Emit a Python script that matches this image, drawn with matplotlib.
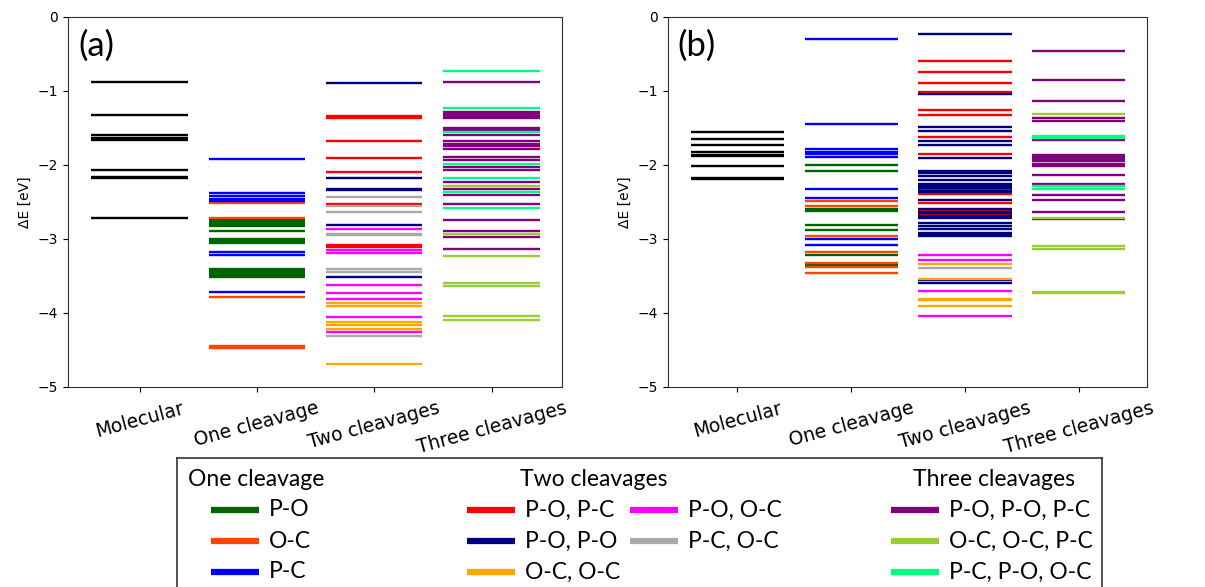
import numpy as np
import matplotlib.pyplot as plt
from matplotlib.lines import Line2D

# energy levels (eV), grouped by structure and bond set
columns = ["Molecular", "One cleavage", "Two cleavages", "Three cleavages"]

# ---- panel (a) ----
a_mol = [-0.88, -1.33, -1.60, -1.63, -1.66, -2.07, -2.16, -2.18, -2.71]

a_one = {
    "P-O": [-2.74, -2.77, -2.80, -2.82, -2.89, -3.00, -3.03, -3.06,
            -3.40, -3.43, -3.46, -3.49, -3.52],
    "O-C": [-2.52, -2.71, -3.78, -4.45, -4.47],
    "P-C": [-1.92, -2.38, -2.42, -2.46, -2.49, -3.17, -3.21, -3.71],
}
a_two = {
    "P-O, P-C": [-1.34, -1.36, -1.67, -1.91, -2.09, -2.53, -3.08, -3.11],
    "P-O, P-O": [-0.89, -2.18, -2.32, -2.34, -2.81, -3.52],
    "O-C, O-C": [-3.87, -3.91, -4.12, -4.16, -4.21, -4.69],
    "P-O, O-C": [-2.87, -3.15, -3.19, -3.62, -3.73, -3.81, -4.05, -4.25],
    "P-C, O-C": [-2.43, -2.56, -2.63, -2.93, -2.95, -3.41, -3.44, -4.31],
}
a_three = {
    "P-O, P-O, P-C": [-0.88, -1.28, -1.31, -1.34, -1.37, -1.50, -1.53, -1.59,
                      -1.67, -1.71, -1.74, -1.78, -1.89, -1.93, -2.03, -2.07,
                      -2.23, -2.32, -2.41, -2.53, -2.74, -2.89, -2.97, -3.13],
    "O-C, O-C, P-C": [-2.29, -2.93, -3.23, -3.59, -3.64, -4.04, -4.09],
    "P-C, P-O, O-C": [-0.73, -1.23, -1.56, -1.98, -2.17, -2.36, -2.58],
}

# ---- panel (b) ----
b_mol = [-1.56, -1.65, -1.73, -1.83, -1.86, -1.88, -2.02, -2.17, -2.19]

b_one = {
    "P-O": [-2.00, -2.08, -2.59, -2.62, -2.81, -2.88, -3.22, -3.35],
    "O-C": [-2.48, -2.55, -2.96, -3.18, -3.32, -3.38, -3.46],
    "P-C": [-0.30, -1.45, -1.79, -1.82, -1.85, -1.89, -2.32, -2.44, -3.00, -3.08],
}
b_two = {
    "P-O, P-C": [-0.60, -0.74, -0.89, -1.01, -1.25, -1.33, -1.62, -1.85,
                 -2.27, -2.33, -2.39, -2.52, -2.61, -2.67],
    "P-O, P-O": [-0.23, -1.04, -1.49, -1.54, -1.68, -1.73, -1.90, -2.08, -2.11,
                 -2.15, -2.20, -2.25, -2.29, -2.31, -2.35, -2.37, -2.47, -2.59,
                 -2.63, -2.65, -2.69, -2.71, -2.78, -2.82, -2.86, -2.92, -2.94,
                 -2.96, -3.56, -3.59],
    "O-C, O-C": [-3.34, -3.54, -3.81, -3.83, -3.90],
    "P-O, O-C": [-3.21, -3.29, -3.70, -4.04],
    "P-C, O-C": [-3.39],
}
b_three = {
    "P-O, P-O, P-C": [-0.46, -0.85, -1.14, -1.36, -1.41, -1.66, -1.86, -1.89,
                      -1.92, -1.95, -1.98, -2.01, -2.14, -2.26, -2.41, -2.47,
                      -2.64, -2.73],
    "O-C, O-C, P-C": [-1.31, -2.71, -3.09, -3.13, -3.71, -3.73],
    "P-C, P-O, O-C": [-1.61, -1.63, -2.29, -2.33],
}

one_colors = {"P-O": "darkgreen", "O-C": "orangered", "P-C": "blue"}
two_colors = {"P-O, P-C": "red", "P-O, P-O": "navy", "O-C, O-C": "orange",
              "P-O, O-C": "magenta", "P-C, O-C": "darkgray"}
three_colors = {"P-O, P-O, P-C": "purple", "O-C, O-C, P-C": "yellowgreen",
                "P-C, P-O, O-C": "springgreen"}

half = 0.41
lw = 1.7


def draw_panel(ax, mol, one, two, three, tag):
    ax.hlines(mol, 0 - half, 0 + half, color="black", lw=lw)
    for pos, group, cols in [(1, one, one_colors), (2, two, two_colors),
                             (3, three, three_colors)]:
        for key, vals in group.items():
            ax.hlines(vals, pos - half, pos + half, color=cols[key], lw=lw)
    ax.set_xlim(-0.61, 3.6)
    ax.set_ylim(-5, 0)
    ax.set_yticks([0, -1, -2, -3, -4, -5])
    ax.set_xticks(range(4))
    ax.set_xticklabels(columns, rotation=15, fontsize=13.5)
    ax.tick_params(axis="y", labelsize=10)
    ax.tick_params(axis="x", pad=5)
    ax.set_ylabel("ΔE [eV]", fontsize=10, labelpad=4)
    for s in ax.spines.values():
        s.set_color("#333333")
    ax.text(0.02, 0.965, tag, transform=ax.transAxes, fontsize=25,
            va="top", ha="left", family="Lato")


fig = plt.figure(figsize=(12.05, 5.87), dpi=100)
W, H = 1205, 587
ax1 = fig.add_axes([68 / W, 1 - 387 / H, 494 / W, 370 / H])
ax2 = fig.add_axes([668 / W, 1 - 387 / H, 479 / W, 370 / H])
draw_panel(ax1, a_mol, a_one, a_two, a_three, "(a)")
draw_panel(ax2, b_mol, b_one, b_two, b_three, "(b)")

# legend box drawn in pixel units
leg = fig.add_axes([177 / W, 0, (1102 - 177) / W, (587 - 458) / H])
leg.set_xlim(177, 1102)
leg.set_ylim(587, 458)
leg.set_xticks([])
leg.set_yticks([])
leg.spines["bottom"].set_visible(False)
for s in ["top", "left", "right"]:
    leg.spines[s].set_color("#333333")
    leg.spines[s].set_linewidth(1.2)

fs = 16.5
lfont = "Lato"
leg.text(188, 480, "One cleavage", fontsize=fs, va="center", ha="left", family=lfont)
leg.text(594, 480, "Two cleavages", fontsize=fs, va="center", ha="center", family=lfont)
leg.text(994, 480, "Three cleavages", fontsize=fs, va="center", ha="center", family=lfont)

rows = [510, 541, 572]


def entry(x0, y, color, label):
    leg.add_line(Line2D([x0, x0 + 48], [y, y], color=color, lw=4.5,
                        solid_capstyle="butt"))
    leg.text(x0 + 58, y, label, fontsize=fs, va="center", ha="left", family=lfont)


for y, (k, c) in zip(rows, one_colors.items()):
    entry(211, y, c, k)
two_items = list(two_colors.items())
for y, (k, c) in zip(rows, two_items[:3]):
    entry(467, y, c, k)
for y, (k, c) in zip(rows, two_items[3:]):
    entry(630, y, c, k)
for y, (k, c) in zip(rows, three_colors.items()):
    entry(891, y, c, k)

fig.savefig("out.png", dpi=100)
